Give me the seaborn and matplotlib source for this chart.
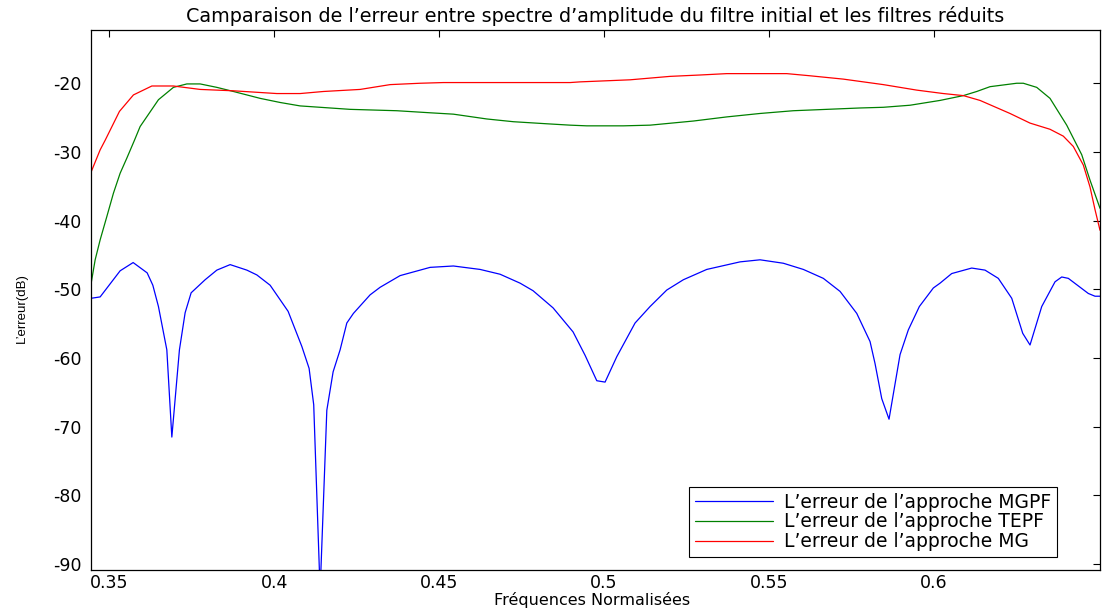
import matplotlib
matplotlib.use("Agg")
import matplotlib.pyplot as plt
import seaborn as sns
import numpy as np

# ---------------- data ----------------
freq_mgpf = [0.34455, 0.34727, 0.35333, 0.35727, 0.36152, 0.36324, 0.36494, 0.36748,
             0.36900, 0.37130, 0.37303, 0.37485, 0.37909, 0.38264, 0.38667, 0.39173,
             0.39476, 0.39879, 0.40424, 0.40839, 0.41060, 0.41200, 0.41394, 0.41597,
             0.41788, 0.42000, 0.42203, 0.42403, 0.42909, 0.43212, 0.43818, 0.44727,
             0.45433, 0.46242, 0.46848, 0.47455, 0.47848, 0.48455, 0.49061, 0.49424,
             0.49779, 0.50030, 0.50385, 0.50939, 0.51394, 0.51900, 0.52403, 0.53112,
             0.54121, 0.54727, 0.55433, 0.56039, 0.56645, 0.57152, 0.57658, 0.58061,
             0.58212, 0.58415, 0.58636, 0.58970, 0.59221, 0.59555, 0.59979, 0.60182,
             0.60536, 0.61142, 0.61545, 0.61948, 0.62355, 0.62688, 0.62909, 0.63264,
             0.63667, 0.63870, 0.64070, 0.64676, 0.64879, 0.65030]
err_mgpf = [-51.3, -51.1, -47.3, -46.1, -47.6, -49.4, -52.5, -58.8,
            -71.5, -58.8, -53.4, -50.5, -48.6, -47.2, -46.4, -47.2,
            -47.9, -49.4, -53.2, -58.3, -61.5, -66.8, -94.0, -67.6,
            -62.0, -58.8, -54.9, -53.5, -50.8, -49.7, -48.0, -46.8,
            -46.6, -47.1, -47.8, -49.1, -50.2, -52.7, -56.2, -59.6,
            -63.3, -63.5, -59.8, -54.9, -52.5, -50.1, -48.6, -47.1,
            -46.0, -45.7, -46.2, -47.1, -48.4, -50.3, -53.5, -57.6,
            -60.8, -65.9, -68.9, -59.5, -55.9, -52.5, -49.8, -49.1,
            -47.7, -46.9, -47.2, -48.4, -51.3, -56.4, -58.1, -52.5,
            -48.9, -48.2, -48.4, -50.6, -51.0, -51.0]

freq_tepf = [0.34455, 0.34576, 0.34727, 0.34930, 0.35130, 0.35333, 0.35536, 0.35767,
             0.35939, 0.36494, 0.36948, 0.37355, 0.37758, 0.38264, 0.38767, 0.39576,
             0.40182, 0.40788, 0.41697, 0.42303, 0.43718, 0.44727, 0.45433, 0.46445,
             0.47252, 0.48264, 0.48970, 0.49476, 0.50585, 0.51394, 0.52706, 0.53718,
             0.54727, 0.55736, 0.56748, 0.57758, 0.58464, 0.59273, 0.60182, 0.60888,
             0.61294, 0.61697, 0.62506, 0.62706, 0.63112, 0.63515, 0.64021, 0.64476,
             0.64727, 0.65030]
err_tepf = [-49.1, -45.7, -42.8, -39.4, -36.0, -33.1, -30.9, -28.3,
            -26.3, -22.4, -20.6, -20.1, -20.1, -20.6, -21.2, -22.2,
            -22.8, -23.3, -23.6, -23.8, -24.0, -24.3, -24.5, -25.2,
            -25.6, -25.9, -26.1, -26.2, -26.2, -26.1, -25.5, -24.9,
            -24.4, -24.0, -23.8, -23.6, -23.5, -23.2, -22.5, -21.8,
            -21.2, -20.5, -20.0, -20.0, -20.6, -22.2, -26.1, -30.4,
            -34.1, -38.2]

freq_mg = [0.34455, 0.34727, 0.34879, 0.35312, 0.35736, 0.36294, 0.36948, 0.37758,
           0.38767, 0.40082, 0.40788, 0.41494, 0.42606, 0.43515, 0.44424, 0.45130,
           0.48970, 0.49273, 0.50788, 0.52000, 0.52909, 0.53718, 0.55536, 0.56212,
           0.57252, 0.58464, 0.59476, 0.60282, 0.60888, 0.61394, 0.62303, 0.62909,
           0.63515, 0.63918, 0.64221, 0.64524, 0.64727, 0.64879, 0.65030]
err_mg = [-32.9, -29.7, -28.3, -24.1, -21.7, -20.4, -20.4, -20.9,
          -21.1, -21.5, -21.5, -21.2, -20.9, -20.2, -20.0, -19.9,
          -19.9, -19.8, -19.5, -19.0, -18.8, -18.6, -18.6, -18.9,
          -19.4, -20.2, -21.0, -21.5, -21.8, -22.5, -24.4, -25.8,
          -26.7, -27.7, -29.2, -31.9, -35.1, -38.4, -41.4]

labels = ["L\u2019erreur de l\u2019approche MGPF",
          "L\u2019erreur de l\u2019approche TEPF",
          "L\u2019erreur de l\u2019approche MG"]
colors = ["#0000ff", "#008000", "#ff0000"]

xticks = [0.35, 0.4, 0.45, 0.5, 0.55, 0.6]
xticklabels = ["0.35", "0.4", "0.45", "0.5", "0.55", "0.6"]
yticks = [-90, -80, -70, -60, -50, -40, -30, -20]
yticklabels = ["-90", "-80", "-70", "-60", "-50", "-40", "-30", "-20"]

title = "Camparaison de l\u2019erreur entre spectre d\u2019amplitude du filtre initial et les filtres r\u00e9duits"
xlabel = "Fr\u00e9quences Normalis\u00e9es"
ylabel = "L\u2019erreur(dB)"

# ---------------- plot ----------------
sns.set_style("white")
plt.rcParams['font.family'] = ['DejaVu Sans']
plt.rcParams['text.color'] = 'black'
plt.rcParams['axes.labelcolor'] = 'black'

fig = plt.figure(figsize=(11.02, 6.09), dpi=100)
ax = fig.add_axes([91/1102, 1 - 570/609, (1100-91)/1102, (570-30)/609])

for fx, fy, lab, col in zip([freq_mgpf, freq_tepf, freq_mg],
                            [err_mgpf, err_tepf, err_mg], labels, colors):
    sns.lineplot(x=fx, y=fy, ax=ax, color=col, label=lab, linewidth=0.9, sort=False)

ax.set_xlim(0.3445, 0.6503)
ax.set_ylim(-90.85, -12.25)
ax.set_xticks(xticks)
ax.set_xticklabels(xticklabels)
ax.set_yticks(yticks)
ax.set_yticklabels(yticklabels)
ax.tick_params(direction="in", length=5, width=0.8, top=True, right=True,
               labelsize=12.5, colors="black")
ax.tick_params(axis="x", pad=3)
ax.tick_params(axis="y", pad=7)

for s in ax.spines.values():
    s.set_visible(True)
    s.set_color("black")
    s.set_linewidth(0.9)

ax.set_title(title, fontsize=13.8, pad=6, color="black")
ax.set_xlabel(xlabel, fontsize=11.5, va="bottom", color="black")
ax.xaxis.set_label_coords(0.497, -38/540)
ax.set_ylabel(ylabel, fontsize=9.5, family=["Liberation Sans", "DejaVu Sans"],
              va="center", color="black")
ax.yaxis.set_label_coords(-69/1009, 0.485)

leg = ax.legend(loc="lower right", bbox_to_anchor=(0.957, 0.024), borderaxespad=0,
                fontsize=13.5, frameon=True, fancybox=False, framealpha=1,
                handlelength=4.2, handletextpad=0.55, labelspacing=0.05,
                borderpad=0.3)
leg.get_frame().set_edgecolor("black")
leg.get_frame().set_linewidth(0.8)
for t in leg.get_texts():
    t.set_color("black")

fig.savefig("out.png", dpi=100)
